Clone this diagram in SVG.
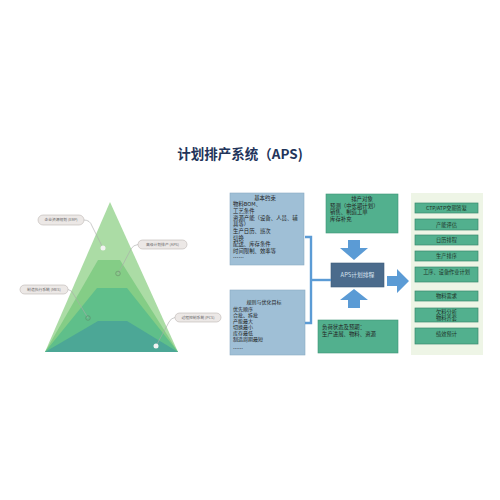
<svg xmlns="http://www.w3.org/2000/svg" width="500" height="500" viewBox="0 0 500 500">
<defs>
<style>
text{font-family:"Noto Sans CJK SC","Noto Sans",sans-serif;}
.title{font-size:13.5px;font-weight:bold;fill:#22345a;}
.pill{fill:#ece8e6;stroke:#bdb7b4;stroke-width:0.6;}
.pt{font-size:3.8px;fill:#666;}
.lead{fill:none;stroke:#a9a9a9;stroke-width:0.6;}
.bt{font-size:5.4px;fill:#222;}
.st{font-size:5px;fill:#222;}
.lb{fill:#9fbfd6;stroke:#8aaac2;stroke-width:0.6;}
.gb{fill:#52b08e;stroke:#3f9477;stroke-width:0.6;}
.rb{fill:#52b08e;stroke:#3a8a6e;stroke-width:0.7;}
.arr{fill:#5b9bd5;}
.br{fill:none;stroke:#5b9bd5;stroke-width:2.4;}
.ct{font-size:5.2px;fill:#1e3328;text-anchor:middle;}
</style>
</defs>
<rect width="500" height="500" fill="#ffffff"/>
<text class="title" x="240" y="159" text-anchor="middle">计划排产系统（APS)</text>

<g id="pyramid">
<polygon points="110,202 178,352 45,352" fill="#abdca5"/>
<polygon points="98,260 120,260 178,352 45,352" fill="#84cd86"/>
<polygon points="97,288 127,288 178,352 45,352" fill="#5fbf8a"/>
<polygon points="98,321 127,321 178,352 45,352" fill="#4ca796"/>
</g>

<g id="label-erp">
<rect class="pill" x="38" y="215" width="46" height="10" rx="5"/>
<text class="pt" x="61" y="221.3" text-anchor="middle">企业资源规划 (ERP)</text>
<path class="lead" d="M84,220 Q90,220 92,226 L103,248"/>
<circle cx="103" cy="248" r="2.5" fill="#f3f3f3"/>
</g>
<g id="label-aps">
<rect class="pill" x="138" y="240" width="49" height="9" rx="4.5"/>
<text class="pt" x="162.5" y="245.8" text-anchor="middle">高级计划排产 (APS)</text>
<path class="lead" d="M138,244.5 Q133,245 131,249 L118,274"/>
<circle cx="118" cy="273.5" r="2.3" fill="none" stroke="#6a8a6a" stroke-width="0.6"/>
</g>
<g id="label-mes">
<rect class="pill" x="20" y="285" width="48" height="9" rx="4.5"/>
<text class="pt" x="44" y="290.8" text-anchor="middle">制造执行系统 (MES)</text>
<path class="lead" d="M68,289.5 Q72,290 74,295 L88,318"/>
<circle cx="88" cy="318" r="2.3" fill="none" stroke="#5a8a6a" stroke-width="0.6"/>
</g>
<g id="label-pcs">
<rect class="pill" x="175" y="313" width="46" height="9" rx="4.5"/>
<text class="pt" x="198" y="318.8" text-anchor="middle">过程控制系统 (PCS)</text>
<path class="lead" d="M175,317.5 Q171,318 169,322 L156,346"/>
<circle cx="156" cy="346" r="2.5" fill="#f3f3f3"/>
</g>

<g id="box-constraints">
<rect class="lb" x="230" y="193" width="74" height="72"/>
<text class="bt" x="265" y="199.5" text-anchor="middle">基本约束</text>
<text class="bt" x="233" y="206.2">物料BOM、</text>
<text class="bt" x="233" y="212.9">工艺条件</text>
<text class="bt" x="233" y="219.6">资源产能（设备、人员、辅</text>
<text class="bt" x="233" y="226.3">具等）</text>
<text class="bt" x="233" y="233">生产日历、班次</text>
<text class="bt" x="233" y="239.7">切换</text>
<text class="bt" x="233" y="246.4">配送、库存条件</text>
<text class="bt" x="233" y="253.1">时间限制、效率等</text>
<text class="bt" x="233" y="260" fill="#667">……</text>
</g>

<g id="box-rules">
<rect class="lb" x="230" y="290" width="75" height="65"/>
<text class="st" x="264" y="304" text-anchor="middle">规则与优化目标</text>
<text class="st" x="233" y="310.5">优先顺序</text>
<text class="st" x="233" y="316.5">合批、拆批</text>
<text class="st" x="233" y="322.5">产能最大</text>
<text class="st" x="233" y="328.5">切换最小</text>
<text class="st" x="233" y="334.5">库存最低</text>
<text class="st" x="233" y="340.5">制造周期最短</text>
<text class="st" x="233" y="350" fill="#667">……</text>
</g>

<g id="box-object">
<rect class="gb" x="326" y="194" width="72" height="39"/>
<text class="bt" x="362" y="201" text-anchor="middle">排产对象</text>
<text class="bt" x="330" y="207.5">预测（中长期计划）</text>
<text class="bt" x="330" y="214">销售、制造工单</text>
<text class="bt" x="330" y="220.5">库存补充</text>
</g>

<g id="box-aps">
<rect x="331" y="263" width="53" height="24" fill="#4b6b8c" stroke="#3f5d7b" stroke-width="0.6"/>
<text x="357.5" y="277" font-size="5.8" fill="#d6e2ee" text-anchor="middle">APS计划排程</text>
</g>

<g id="box-load">
<rect class="gb" x="318" y="320" width="80" height="33"/>
<text class="bt" x="322" y="329">负荷状态及预期：</text>
<text class="bt" x="322" y="336">生产进展、物料、资源</text>
</g>

<g id="connectors">
<path class="br" d="M305,237 H311 V323 H305"/>
<path class="br" d="M311,280 H331"/>
<polygon class="arr" points="348,240 360,240 360,248 368,248 354,260 340,248 348,248"/>
<polygon class="arr" points="354,289 368,300 360,300 360,308 348,308 348,300 340,300"/>
<polygon class="arr" points="387,276 397,276 397,269 409,281 397,293 397,286 387,286"/>
</g>

<g id="panel-results">
<rect x="411" y="193" width="72" height="162" fill="#eef5e6"/>
<g id="r1"><rect class="rb" x="415" y="203" width="63" height="10"/><text class="ct" x="446.5" y="210">CTP/ATP交期答复</text></g>
<g id="r2"><rect class="rb" x="415" y="219" width="63" height="11"/><text class="ct" x="446.5" y="226.5">产能评估</text></g>
<g id="r3"><rect class="rb" x="415" y="235" width="63" height="10"/><text class="ct" x="446.5" y="242">日历排程</text></g>
<g id="r4"><rect class="rb" x="415" y="251" width="63" height="10"/><text class="ct" x="446.5" y="258">生产排序</text></g>
<g id="r5"><rect class="rb" x="415" y="267" width="63" height="15"/><text class="ct" x="446.5" y="273.5">工序、设备作业计划</text></g>
<g id="r6"><rect class="rb" x="415" y="291" width="63" height="10"/><text class="ct" x="446.5" y="298">物料需求</text></g>
<g id="r7"><rect class="rb" x="415" y="308" width="63" height="14"/><text class="ct" x="446.5" y="314">欠料分析</text><text class="ct" x="446.5" y="320">物料齐套</text></g>
<g id="r8"><rect class="rb" x="415" y="328" width="63" height="16"/><text class="ct" x="446.5" y="336">绩效预计</text></g>
</g>
</svg>
